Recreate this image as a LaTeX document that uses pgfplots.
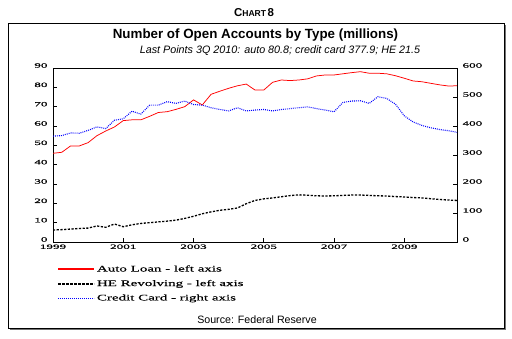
\documentclass[border=0pt]{standalone}
\usepackage{pgfplots}
\pgfplotsset{compat=1.18}
\usepackage{pgfplotstable}
\usepackage{fontspec}
\setmainfont{Liberation Sans}
\newfontfamily\tickfont[FakeStretch=2.0,FakeBold=0.4]{Liberation Serif}
\newfontfamily\legfont[FakeStretch=1.75,FakeBold=0.3]{Liberation Serif}

\pgfplotstableread{
x auto he
1999.00 45.9 6.2
1999.25 46.4 6.4
1999.50 49.7 6.7
1999.75 49.7 7.0
2000.00 51.4 7.2
2000.25 55.0 8.3
2000.50 57.4 7.6
2000.75 59.5 9.3
2001.00 62.8 7.9
2001.25 63.2 8.9
2001.50 63.2 9.6
2001.75 65.0 10.0
2002.00 67.0 10.4
2002.25 67.4 10.8
2002.50 68.6 11.3
2002.75 70.0 12.2
2003.00 73.5 13.3
2003.25 70.9 14.6
2003.50 76.4 15.6
2003.75 78.0 16.4
2004.00 79.5 16.9
2004.25 80.8 17.6
2004.50 81.7 19.8
2004.75 78.6 21.5
2005.00 78.6 22.3
2005.25 82.6 22.8
2005.50 83.8 23.4
2005.75 83.5 24.0
2006.00 83.8 24.4
2006.25 84.4 24.2
2006.50 85.9 23.9
2006.75 86.4 23.8
2007.00 86.4 23.9
2007.25 87.0 24.1
2007.50 87.6 24.3
2007.75 88.1 24.3
2008.00 87.3 24.1
2008.25 87.3 23.9
2008.50 87.0 23.8
2008.75 86.0 23.5
2009.00 84.7 23.3
2009.25 83.3 23.0
2009.50 82.9 22.8
2009.75 82.1 22.4
2010.00 81.3 22.0
2010.25 80.7 21.7
2010.50 80.8 21.5
}\lefttable

\pgfplotstableread{
x cc
1999.00 365
1999.25 367
1999.50 376
1999.75 375
2000.00 385
2000.25 397
2000.50 391
2000.75 420
2001.00 425
2001.25 451
2001.50 441
2001.75 472
2002.00 472
2002.25 484
2002.50 478
2002.75 486
2003.00 474
2003.25 472
2003.50 463
2003.75 457
2004.00 452
2004.25 463
2004.50 452
2004.75 455
2005.00 457
2005.25 452
2005.50 457
2005.75 460
2006.00 463
2006.25 466
2006.50 460
2006.75 455
2007.00 449
2007.25 481
2007.50 486
2007.75 487
2008.00 478
2008.25 501
2008.50 495
2008.75 475
2009.00 435
2009.25 414
2009.50 402
2009.75 394
2010.00 388
2010.25 384
2010.50 378
}\cctable

\begin{document}
\begin{tikzpicture}
\begin{scope}[x=1bp,y=1bp]
\path[use as bounding box] (0,0) rectangle (512,338);
% frame with shadow
\draw[black!55, line width=1.6bp] (10,9) -- (505.5,9) -- (505.5,313);
\draw[line width=0.9bp] (8,10) rectangle (504,315);
% header texts
\node at (254,325) {\bfseries\fontsize{11.5}{13}\selectfont C\fontsize{8.6}{10}\selectfont HART\,\fontsize{11.5}{13}\selectfont 8};
\node at (255.5,303) {\bfseries\fontsize{13.4}{15}\selectfont Number of Open Accounts by Type (millions)};
\node at (280,287) {\itshape\fontsize{10.8}{12}\selectfont Last Points 3Q 2010: auto 80.8; credit card 377.9; HE 21.5};
\node at (257,18) {\fontsize{10.7}{12}\selectfont Source: Federal Reserve};
\end{scope}

\begin{axis}[
  at={(53bp,96bp)}, anchor=south west,
  scale only axis, width=404bp, height=174bp,
  xmin=1999, xmax=2010.5, ymin=0, ymax=90,
  xtick={1999,2001,...,2009},
  ytick={0,10,...,90},
  tick align=inside,
  xtick pos=bottom, ytick pos=left,
  major tick length=4bp,
  axis line style={line width=0.7bp},
  tick style={line width=0.6bp, black},
  /pgf/number format/.cd, 1000 sep={}, assume math mode=true,
  /pgfplots/.cd,
  ticklabel style={font=\tickfont\fontsize{6.6}{7}\selectfont},
  yticklabel style={yshift=2.5bp, xshift=-2bp},
  xticklabel style={yshift=1bp},
]
\addplot[red, line width=0.75bp] table[x=x,y=auto] {\lefttable};
\addplot[black, line width=1.3bp, dash pattern=on 2.2bp off 1.5bp] table[x=x,y=he] {\lefttable};
\end{axis}

\begin{axis}[
  at={(53bp,96bp)}, anchor=south west,
  scale only axis, width=404bp, height=174bp,
  xmin=1999, xmax=2010.5, ymin=0, ymax=600,
  axis x line=none,
  axis y line*=right,
  ytick={0,100,...,600},
  tick align=inside,
  ytick pos=right,
  major tick length=4bp,
  axis line style={line width=0.7bp, -},
  tick style={line width=0.6bp, black},
  /pgf/number format/.cd, 1000 sep={}, assume math mode=true,
  /pgfplots/.cd,
  ticklabel style={font=\tickfont\fontsize{6.6}{7}\selectfont},
  yticklabel style={yshift=2.5bp, xshift=2bp},
  legend style={at={(0.01,-0.125)}, anchor=north west, draw=none, fill=none,
    font=\legfont\fontsize{8.6}{9}\selectfont, row sep=4bp, inner sep=0pt,
    nodes={inner sep=1.5bp}},
  legend cell align=left,
  legend image code/.code={\draw[#1] (0bp,0bp) -- (36bp,0bp);},
]
\addlegendimage{red, line width=2bp}
\addlegendentry{Auto Loan - left axis}
\addlegendimage{black, line width=2.2bp, dash pattern=on 2.5bp off 1.5bp}
\addlegendentry{HE Revolving - left axis}
\addlegendimage{blue, line width=1.2bp, dash pattern=on 0.9bp off 1.1bp}
\addlegendentry{Credit Card - right axis}
\addplot[blue, line width=1.1bp, dash pattern=on 0.9bp off 1.1bp, forget plot] table[x=x,y=cc] {\cctable};
\end{axis}
\end{tikzpicture}
\end{document}
